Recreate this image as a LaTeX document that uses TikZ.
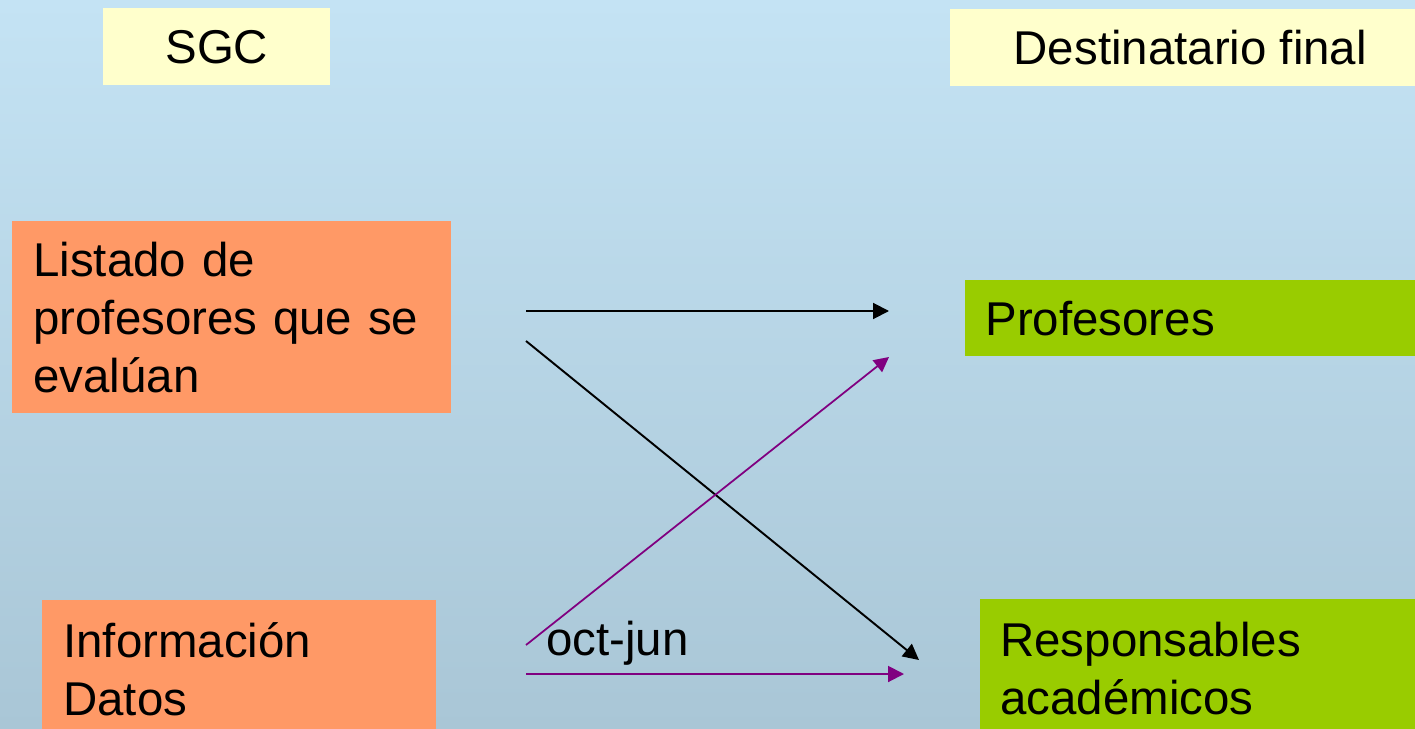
\documentclass[tikz,border=0pt]{standalone}
\usepackage{fontspec}
\setmainfont{Liberation Sans}
\usepackage{tikz}
\usetikzlibrary{arrows.meta,positioning}

\definecolor{bgtop}{RGB}{196,227,244}
\definecolor{bgbot}{RGB}{169,198,214}
\definecolor{headfill}{RGB}{255,255,204}
\definecolor{srcfill}{RGB}{255,153,102}
\definecolor{dstfill}{RGB}{153,204,0}
\definecolor{flowpurple}{RGB}{128,0,128}

\begin{document}
\begin{tikzpicture}[x=0.02cm,y=-0.02cm,
	every node/.style={font=\fontsize{27pt}{33pt}\selectfont},
	head/.style={fill=headfill,anchor=north west,inner sep=0pt,align=center},
	src/.style={fill=srcfill,anchor=north west,inner ysep=0pt,inner xsep=0.42cm,align=left},
	dst/.style={fill=dstfill,anchor=north west,inner ysep=0pt,inner xsep=0.4cm,align=left},
	flow/.style={line width=1.1pt,-{Triangle[length=9pt,width=9pt]}}]
		\useasboundingbox (0,0) rectangle (1415,729);
		\clip (0,0) rectangle (1415,729);
		\shade[top color=bgtop,bottom color=bgbot] (0,0) rectangle (1415,729);

		% headings
		\node[head,minimum width=4.54cm,minimum height=1.54cm] (sgc) at (103,8) {SGC};
		\node[head,minimum width=9.6cm,minimum height=1.54cm] (dest) at (950,9) {Destinatario final};

		% sources
		\node[src,text width=7.94cm,minimum height=3.84cm] (lst) at (12,221) {Listado de\\profesores que se\\evalúan};
		\node[src,text width=7.04cm,minimum height=2.76cm] (info) at (42,600) {Información\\Datos};

		% receivers
		\node[dst,text width=8.5cm,minimum height=1.52cm] (prof) at (965,280) {Profesores};
		\node[dst,text width=8.16cm,minimum height=2.78cm] (resp) at (980,599) {Responsables\\académicos};

		% arrow ends
		\coordinate (lst1) at (526,311);
		\coordinate (lst2) at (526,341);
		\coordinate (info1) at (526,645);
		\coordinate (info2) at (526,674);
		\coordinate (prof1) at (889,311);
		\coordinate (prof2) at (889,357);
		\coordinate (resp1) at (919,660);
		\coordinate (resp2) at (904,674);

		\path
		(lst1) edge [flow] (prof1)
		(lst2) edge [flow] (resp1)

		(info1) edge [flow,flowpurple,line width=1pt,-{Triangle[length=8.5pt,width=8.5pt]}] (prof2)
		(info2) edge [flow,flowpurple] node [above,pos=0.242,inner sep=4.5pt,text=black] {oct-jun} (resp2)
		;
	\end{tikzpicture}
\end{document}
